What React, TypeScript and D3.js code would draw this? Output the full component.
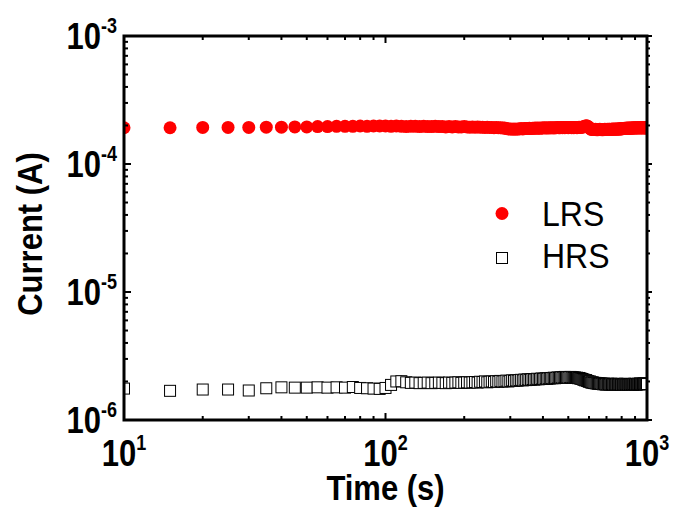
import React from "react";
import * as d3 from "d3";

// time (s)
const times: number[] = [
  10, 15, 20, 25, 30, 35, 40, 45, 50, 55, 60, 65, 70, 75, 80, 85, 90, 95, 100,
  105, 110, 115, 120, 125, 130, 135, 140, 145, 150, 155, 160, 165, 170, 175, 180, 185, 190, 195, 200,
  205, 210, 215, 220, 225, 230, 235, 240, 245, 250, 255, 260, 265, 270, 275, 280, 285, 290, 295, 300,
  305, 310, 315, 320, 325, 330, 335, 340, 345, 350, 355, 360, 365, 370, 375, 380, 385, 390, 395, 400,
  405, 410, 415, 420, 425, 430, 435, 440, 445, 450, 455, 460, 465, 470, 475, 480, 485, 490, 495, 500,
  505, 510, 515, 520, 525, 530, 535, 540, 545, 550, 555, 560, 565, 570, 575, 580, 585, 590, 595, 600,
  605, 610, 615, 620, 625, 630, 635, 640, 645, 650, 655, 660, 665, 670, 675, 680, 685, 690, 695, 700,
  705, 710, 715, 720, 725, 730, 735, 740, 745, 750, 755, 760, 765, 770, 775, 780, 785, 790, 795, 800,
  805, 810, 815, 820, 825, 830, 835, 840, 845, 850, 855, 860, 865, 870, 875, 880, 885, 890, 895, 900,
  905, 910, 915, 920, 925, 930, 935, 940, 945, 950, 955, 960, 965, 970, 975, 980, 985, 990, 995, 1000,
];

// LRS current, units of 1e-4 A
const lrs: number[] = [
  1.92, 1.92, 1.93, 1.93, 1.93, 1.94, 1.94, 1.95, 1.95, 1.96, 1.96, 1.97, 1.97, 1.97, 1.98, 1.97, 1.98, 1.98, 1.98,
  1.97, 1.98, 1.97, 1.96, 1.97, 1.97, 1.96, 1.97, 1.96, 1.96, 1.97,
  1.96, 1.96, 1.95, 1.96, 1.95, 1.96, 1.95, 1.95, 1.96, 1.95, 1.94, 1.95, 1.94, 1.95, 1.94, 1.94, 1.93, 1.94, 1.93, 1.93,
  1.92, 1.93, 1.92, 1.92, 1.91, 1.91,
  1.89, 1.88, 1.88, 1.87, 1.88, 1.87, 1.88, 1.88, 1.89, 1.88, 1.89, 1.89,
  1.89, 1.90, 1.89, 1.90, 1.90, 1.91, 1.90, 1.91, 1.90, 1.91, 1.91, 1.92, 1.91, 1.91, 1.92, 1.91, 1.92, 1.92, 1.91, 1.92,
  1.92, 1.93, 1.92, 1.92, 1.93, 1.92, 1.93, 1.92, 1.93, 1.93, 1.92, 1.93, 1.93, 1.92, 1.93, 1.92, 1.93, 1.93, 1.92, 1.93,
  1.94, 1.93, 1.94, 1.94, 1.95, 1.96,
  1.97, 1.99, 1.98, 1.96, 1.93, 1.90,
  1.87, 1.86, 1.87, 1.86, 1.86, 1.87, 1.86, 1.85, 1.86, 1.86, 1.87, 1.86, 1.86, 1.85, 1.86, 1.86, 1.87, 1.86, 1.86, 1.87,
  1.86, 1.87, 1.87, 1.86, 1.87, 1.87, 1.88, 1.87, 1.87, 1.88, 1.87, 1.88, 1.88, 1.87, 1.88, 1.88, 1.89, 1.88, 1.88, 1.89,
  1.89,
  1.89, 1.90, 1.89, 1.90, 1.90, 1.91, 1.90, 1.90, 1.91, 1.90, 1.91, 1.91, 1.90, 1.91, 1.91, 1.92, 1.91, 1.91, 1.92, 1.91,
  1.91, 1.92, 1.91, 1.92, 1.92, 1.91, 1.92, 1.91, 1.92, 1.92, 1.91, 1.92, 1.92, 1.91, 1.92, 1.91, 1.92, 1.92,
];

// HRS current, units of 1e-6 A
const hrs: number[] = [
  1.76, 1.69, 1.73, 1.73, 1.70, 1.77, 1.80, 1.79, 1.79, 1.80, 1.79, 1.80, 1.79, 1.81, 1.78, 1.77, 1.76, 1.75, 1.78, 1.88,
  2.00,
  2.01, 1.97, 1.95, 1.96, 1.94, 1.95, 1.96, 1.94, 1.95, 1.96, 1.95, 1.94, 1.96, 1.95, 1.96, 1.97, 1.95, 1.96, 1.97, 1.96,
  1.97, 1.98, 1.96, 1.99, 1.98, 2.00, 1.97, 1.99, 2.00, 1.98, 2.01, 1.99, 2.02, 2.00, 2.01, 2.03, 2.00, 2.02, 2.04, 2.02,
  2.04, 2.03, 2.05, 2.06, 2.04, 2.07, 2.05, 2.08, 2.06, 2.07, 2.09, 2.07, 2.08, 2.10, 2.08, 2.09, 2.11, 2.09, 2.10, 2.12,
  2.10, 2.12, 2.11, 2.13, 2.12, 2.14, 2.12, 2.13, 2.15, 2.13, 2.14, 2.16, 2.14, 2.15, 2.17, 2.15, 2.16, 2.14, 2.16, 2.17,
  2.15, 2.16, 2.14, 2.15, 2.13, 2.14, 2.12, 2.13, 2.11, 2.10,
  2.09, 2.07, 2.06, 2.04, 2.05, 2.02, 2.01, 1.99, 2.00, 1.97, 1.96, 1.97, 1.95, 1.94, 1.95, 1.93, 1.94, 1.92, 1.93, 1.92,
  1.93, 1.91, 1.92, 1.90, 1.92, 1.91, 1.89, 1.91, 1.90, 1.92, 1.91, 1.89, 1.90, 1.92, 1.90, 1.91, 1.89, 1.90, 1.91, 1.89,
  1.90, 1.92, 1.91, 1.89, 1.90, 1.91, 1.90, 1.88, 1.90, 1.91, 1.89, 1.90, 1.92, 1.90, 1.89, 1.91, 1.90, 1.88, 1.90, 1.91,
  1.89, 1.90, 1.91, 1.90, 1.89, 1.91, 1.92, 1.90, 1.91, 1.89, 1.90, 1.91, 1.92, 1.90, 1.91, 1.93, 1.91, 1.92, 1.90, 1.91,
  1.92, 1.91, 1.93, 1.92, 1.91, 1.92, 1.93, 1.91,
];

const xDecades: number[] = [1, 2, 3];
const yDecades: number[] = [-3, -4, -5, -6];
const seriesNames: string[] = ["LRS", "HRS"];
const xTitle = "Time (s)";
const yTitle = "Current (A)";

const W = 673;
const H = 507;
const M = { left: 124, right: 647, top: 36, bottom: 420 };

export default function App() {
  const x = d3.scaleLog().domain([10, 1000]).range([M.left, M.right]);
  const y = d3.scaleLog().domain([1e-6, 1e-3]).range([M.bottom, M.top]);

  const n = Math.min(times.length, lrs.length, hrs.length);
  const lrsPts = d3.range(n).map((i) => ({ t: times[i], v: lrs[i] * 1e-4 }));
  const hrsPts = d3.range(n).map((i) => ({ t: times[i], v: hrs[i] * 1e-6 }));

  const xMinor: number[] = [];
  for (let d = 1; d < 3; d++) for (let k = 2; k <= 9; k++) xMinor.push(k * Math.pow(10, d));
  const yMinor: number[] = [];
  for (let d = -6; d < -3; d++) for (let k = 2; k <= 9; k++) yMinor.push(k * Math.pow(10, d));

  const lw = 3;
  const font = "'Liberation Sans', Arial, sans-serif";
  const sq = 11;
  const tickFs = 31;
  const tickSy = 1.2;

  return (
    <svg width={W} height={H} style={{ position: "absolute", left: 0, top: 0 }}>
      <rect x={0} y={0} width={W} height={H} fill="#fff" />
      <defs>
        <clipPath id="plot">
          <rect x={M.left} y={M.top} width={M.right - M.left} height={M.bottom - M.top} />
        </clipPath>
      </defs>
      <g clipPath="url(#plot)">
        {lrsPts.map((p, i) => (
          <circle key={"l" + i} cx={x(p.t)} cy={y(p.v)} r={6.5} fill="#ff0000" />
        ))}
        {hrsPts.map((p, i) => (
          <rect
            key={"h" + i}
            x={x(p.t) - sq / 2}
            y={y(p.v) - sq / 2}
            width={sq}
            height={sq}
            fill="#fff"
            stroke="#000"
            strokeWidth={1}
          />
        ))}
      </g>
      {/* ticks */}
      <g stroke="#000" strokeWidth={2}>
        {xMinor.map((v) => (
          <g key={"xm" + v}>
            <line x1={x(v)} x2={x(v)} y1={M.bottom} y2={M.bottom - 4} />
            <line x1={x(v)} x2={x(v)} y1={M.top} y2={M.top + 4} />
          </g>
        ))}
        {xDecades.map((d) => (
          <g key={"xM" + d}>
            <line x1={x(Math.pow(10, d))} x2={x(Math.pow(10, d))} y1={M.bottom} y2={M.bottom - 7} />
            <line x1={x(Math.pow(10, d))} x2={x(Math.pow(10, d))} y1={M.top} y2={M.top + 7} />
          </g>
        ))}
        {yMinor.map((v) => (
          <g key={"ym" + v}>
            <line x1={M.left} x2={M.left + 4} y1={y(v)} y2={y(v)} />
            <line x1={M.right} x2={M.right + 3} y1={y(v)} y2={y(v)} />
          </g>
        ))}
        {yDecades.map((d) => (
          <g key={"yM" + d}>
            <line x1={M.left} x2={M.left + 7} y1={y(Math.pow(10, d))} y2={y(Math.pow(10, d))} />
            <line x1={M.right} x2={M.right + 5} y1={y(Math.pow(10, d))} y2={y(Math.pow(10, d))} />
          </g>
        ))}
      </g>
      <rect
        x={M.left}
        y={M.top}
        width={M.right - M.left}
        height={M.bottom - M.top}
        fill="none"
        stroke="#000"
        strokeWidth={lw}
      />
      {/* y tick labels */}
      {yDecades.map((d) => (
        <text
          key={"yl" + d}
          transform={`translate(117, ${y(Math.pow(10, d)) + 13}) scale(1, ${tickSy})`}
          textAnchor="end"
          fontFamily={font}
          fontWeight="bold"
          fontSize={tickFs}
        >
          <tspan>10</tspan>
          <tspan fontSize={18} dy={-13}>{String(d)}</tspan>
        </text>
      ))}
      {/* x tick labels */}
      {xDecades.map((d) => (
        <text
          key={"xl" + d}
          transform={`translate(${x(Math.pow(10, d))}, 466) scale(1, ${tickSy})`}
          textAnchor="middle"
          fontFamily={font}
          fontWeight="bold"
          fontSize={tickFs}
        >
          <tspan>10</tspan>
          <tspan fontSize={18} dy={-13}>{String(d)}</tspan>
        </text>
      ))}
      <text
        transform={`translate(${(M.left + M.right) / 2}, 500) scale(1, 1.15)`}
        textAnchor="middle"
        fontFamily={font}
        fontWeight="bold"
        fontSize={31}
      >
        {xTitle}
      </text>
      <text
        transform={`translate(42, ${(M.top + M.bottom) / 2 + 6}) rotate(-90) scale(1, 1.15)`}
        textAnchor="middle"
        fontFamily={font}
        fontWeight="bold"
        fontSize={31}
      >
        {yTitle}
      </text>
      {/* legend */}
      <circle cx={502} cy={213.5} r={6.5} fill="#ff0000" />
      <text transform="translate(542, 226) scale(1, 1.1)" fontFamily={font} fontSize={32}>
        {seriesNames[0]}
      </text>
      <rect x={502 - sq / 2} y={258 - sq / 2} width={sq} height={sq} fill="#fff" stroke="#000" strokeWidth={1} />
      <text transform="translate(542, 268) scale(1, 1.1)" fontFamily={font} fontSize={32}>
        {seriesNames[1]}
      </text>
    </svg>
  );
}
